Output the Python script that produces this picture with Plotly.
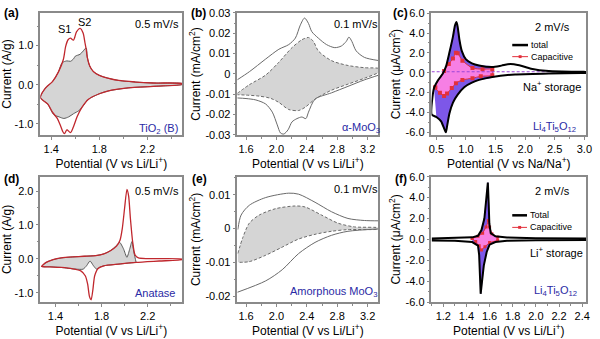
import plotly.graph_objects as go

W, H = 600, 339

# ---------------- Panel (a): TiO2(B), 0.5 mV/s ----------------
a_tot_up_v = [1.31, 1.35, 1.41, 1.46, 1.50, 1.52, 1.54, 1.56, 1.585, 1.61, 1.64, 1.665, 1.68, 1.69, 1.70, 1.72, 1.75, 1.80, 1.87, 1.96, 2.10, 2.25, 2.49]
a_tot_up_i = [-0.33, -0.09, 0.08, 0.33, 0.64, 0.98, 1.15, 1.19, 1.14, 1.35, 1.44, 1.32, 1.08, 0.92, 0.70, 0.48, 0.34, 0.24, 0.17, 0.11, 0.07, 0.045, 0.03]
a_tot_lo_v = [2.49, 2.25, 2.04, 1.87, 1.80, 1.71, 1.655, 1.615, 1.585, 1.56, 1.53, 1.51, 1.495, 1.475, 1.45, 1.41, 1.37, 1.31]
a_tot_lo_i = [0.01, -0.04, -0.08, -0.16, -0.23, -0.37, -0.58, -0.82, -1.07, -1.22, -1.15, -1.25, -1.19, -1.03, -0.86, -0.70, -0.49, -0.33]
a_cap_up_v = [1.31, 1.35, 1.41, 1.46, 1.49, 1.53, 1.56, 1.585, 1.60, 1.64, 1.665, 1.69, 1.70, 1.72, 1.75, 1.80, 1.87, 1.96, 2.10, 2.25, 2.49]
a_cap_up_i = [-0.33, -0.09, 0.08, 0.33, 0.56, 0.61, 0.60, 0.66, 0.73, 0.78, 0.86, 0.94, 0.70, 0.48, 0.34, 0.24, 0.17, 0.11, 0.07, 0.045, 0.03]
a_cap_lo_v = [2.49, 2.25, 2.04, 1.87, 1.80, 1.71, 1.655, 1.63, 1.585, 1.545, 1.505, 1.465, 1.42, 1.37, 1.31]
a_cap_lo_i = [0.01, -0.04, -0.08, -0.16, -0.23, -0.37, -0.58, -0.66, -0.74, -0.82, -0.86, -0.82, -0.76, -0.49, -0.33]

# ---------------- Panel (b): alpha-MoO3, 0.1 mV/s ----------------
b_tot_up_v = [1.483, 1.643, 1.859, 2.032, 2.162, 2.249, 2.314, 2.370, 2.422, 2.465, 2.551, 2.659, 2.768, 2.854, 2.919, 2.954, 2.992, 3.049, 3.157, 3.351]
b_tot_up_i = [-0.0030, 0.0010, 0.0073, 0.0121, 0.0144, 0.0176, 0.0240, 0.0275, 0.0248, 0.0208, 0.0176, 0.0144, 0.0129, 0.0137, 0.0160, 0.0181, 0.0160, 0.0113, 0.0081, 0.0065]
b_tot_lo_v = [3.351, 3.157, 2.941, 2.724, 2.508, 2.422, 2.387, 2.335, 2.270, 2.205, 2.153, 2.097, 2.054, 2.011, 1.946, 1.859, 1.730, 1.600, 1.483]
b_tot_lo_i = [-0.0006, -0.0030, -0.0062, -0.0094, -0.0125, -0.0189, -0.0221, -0.0213, -0.0221, -0.0237, -0.0276, -0.0297, -0.0292, -0.0252, -0.0189, -0.0149, -0.0129, -0.0122, -0.0119]
b_cap_up_v = [1.483, 1.643, 1.859, 2.032, 2.205, 2.335, 2.422, 2.486, 2.551, 2.724, 2.941, 3.157, 3.351]
b_cap_up_i = [-0.0097, -0.0054, -0.0006, 0.0057, 0.0129, 0.0168, 0.0179, 0.0160, 0.0113, 0.0065, 0.0041, 0.0030, 0.0025]
b_cap_lo_v = [3.351, 3.157, 2.941, 2.724, 2.508, 2.378, 2.292, 2.162, 2.032, 1.924, 1.773, 1.600, 1.483]
b_cap_lo_i = [0.0010, -0.0022, -0.0051, -0.0081, -0.0125, -0.0165, -0.0181, -0.0176, -0.0141, -0.0121, -0.0110, -0.0105, -0.0103]

# ---------------- Panel (c): Li4Ti5O12 Na+ storage, 2 mV/s ----------------
c_tot_up_v = [0.42, 0.46, 0.53, 0.61, 0.667, 0.72, 0.78, 0.815, 0.84, 0.86, 0.89, 0.93, 1.00, 1.10, 1.22, 1.445, 1.60, 1.75, 1.90, 2.10, 2.40, 2.95, 3.03]
c_tot_up_i = [-4.2, -1.53, -0.72, -0.08, 0.73, 2.03, 3.64, 4.78, 5.10, 4.60, 3.30, 2.18, 1.35, 0.95, 0.73, 0.57, 0.72, 0.89, 0.75, 0.41, 0.17, 0.09, 0.08]
c_tot_lo_v = [3.03, 2.95, 2.40, 1.83, 1.445, 1.22, 1.10, 0.97, 0.86, 0.78, 0.72, 0.68, 0.66, 0.63, 0.58, 0.50, 0.42]
c_tot_lo_i = [-0.02, -0.02, -0.08, -0.17, -0.42, -0.72, -1.00, -1.45, -2.20, -3.00, -4.10, -5.40, -6.00, -5.60, -4.90, -4.45, -4.20]
c_cap_up_v = [0.48, 0.63, 0.71, 0.78, 0.83, 0.86, 0.94, 1.11, 1.28, 1.445]
c_cap_up_i = [-1.48, 0.18, 0.89, 1.44, 2.02, 1.96, 1.22, 0.47, 0.36, 0.34]
c_cap_lo_v = [1.445, 1.25, 1.11, 0.94, 0.83, 0.76, 0.68, 0.63, 0.56, 0.48]
c_cap_lo_i = [-0.25, -0.35, -0.55, -0.72, -1.05, -1.54, -2.10, -2.35, -2.02, -1.48]
c_base_i = 0.1

# ---------------- Panel (d): Anatase, 0.5 mV/s ----------------
d_tot_up_v = [1.28, 1.32, 1.38, 1.45, 1.55, 1.65, 1.75, 1.82, 1.88, 1.93, 1.96, 1.98, 2.00, 2.02, 2.035, 2.05, 2.07, 2.09, 2.12, 2.20, 2.50]
d_tot_up_i = [-0.22, -0.10, -0.02, 0.03, 0.06, 0.08, 0.10, 0.15, 0.25, 0.38, 0.55, 0.90, 1.50, 2.05, 1.85, 1.20, 0.50, 0.12, 0.03, 0.01, 0.00]
d_tot_lo_v = [2.50, 2.30, 2.10, 1.95, 1.82, 1.77, 1.74, 1.725, 1.71, 1.695, 1.68, 1.66, 1.62, 1.55, 1.45, 1.35, 1.28]
d_tot_lo_i = [-0.02, -0.06, -0.10, -0.15, -0.20, -0.28, -0.50, -0.90, -1.20, -1.10, -0.75, -0.50, -0.35, -0.29, -0.25, -0.23, -0.22]
d_cap_up_v = [1.28, 1.32, 1.38, 1.45, 1.55, 1.65, 1.75, 1.82, 1.88, 1.93, 1.957, 1.99, 2.02, 2.045, 2.063, 2.08, 2.10]
d_cap_up_i = [-0.22, -0.10, -0.02, 0.03, 0.06, 0.08, 0.10, 0.15, 0.25, 0.40, 0.49, 0.30, 0.05, 0.30, 0.51, 0.20, -0.10]
d_cap_lo_v = [2.10, 1.95, 1.82, 1.78, 1.757, 1.73, 1.70, 1.67, 1.64, 1.58, 1.45, 1.35, 1.28]
d_cap_lo_i = [-0.10, -0.15, -0.20, -0.25, -0.30, -0.20, -0.06, -0.20, -0.30, -0.30, -0.25, -0.23, -0.22]

# ---------------- Panel (e): Amorphous MoO3, 0.1 mV/s ----------------
e_tot_up_v = [1.492, 1.535, 1.643, 1.859, 2.162, 2.292, 2.508, 2.724, 2.941, 3.157, 3.351]
e_tot_up_i = [-0.0003, 0.0040, 0.0069, 0.0092, 0.0105, 0.0102, 0.0078, 0.0050, 0.0030, 0.0024, 0.0023]
e_tot_lo_v = [3.351, 2.941, 2.724, 2.508, 2.292, 2.076, 1.859, 1.483]
e_tot_lo_i = [-0.0001, -0.0008, -0.0020, -0.0041, -0.0074, -0.0122, -0.0155, -0.0189]
e_cap_up_v = [1.492, 1.557, 1.643, 1.773, 1.989, 2.249, 2.378, 2.595, 2.811, 3.027, 3.351]
e_cap_up_i = [-0.0074, -0.0027, 0.0016, 0.0040, 0.0059, 0.0067, 0.0064, 0.0040, 0.0016, 0.0005, 0.0002]
e_cap_lo_v = [3.351, 2.941, 2.724, 2.508, 2.292, 2.076, 1.859, 1.643, 1.492]
e_cap_lo_i = [-0.0001, -0.0003, -0.0008, -0.0017, -0.0031, -0.0055, -0.0079, -0.0098, -0.0100]

# ---------------- Panel (f): Li4Ti5O12 Li+ storage, 2 mV/s ----------------
f_tot_up_v = [1.10, 1.30, 1.45, 1.50, 1.53, 1.555, 1.57, 1.585, 1.592, 1.598, 1.61, 1.65, 1.75, 2.00, 2.43]
f_tot_up_i = [0.10, 0.12, 0.20, 0.35, 0.90, 2.00, 3.50, 5.45, 3.50, 1.50, 0.60, 0.30, 0.18, 0.12, 0.10]
f_tot_lo_v = [2.43, 2.00, 1.75, 1.65, 1.60, 1.575, 1.55, 1.535, 1.523, 1.517, 1.51, 1.50, 1.45, 1.30, 1.10]
f_tot_lo_i = [-0.05, -0.08, -0.12, -0.25, -0.50, -1.20, -2.50, -4.00, -5.20, -3.50, -1.50, -0.60, -0.25, -0.12, -0.10]
f_cap_up_v = [1.45, 1.50, 1.54, 1.57, 1.59, 1.60, 1.62, 1.67]
f_cap_up_i = [0.10, 0.30, 0.60, 1.20, 1.80, 1.20, 0.55, 0.20]
f_cap_lo_v = [1.67, 1.60, 1.56, 1.53, 1.51, 1.48, 1.45]
f_cap_lo_i = [-0.10, -0.30, -0.70, -1.00, -0.60, -0.20, 0.10]

# ---------------- styling ----------------
FONT = "Arial, Liberation Sans, sans-serif"
RED = "#c0272d"
GRAYLINE = "#5a5a5a"
GRAYFILL = "#d5d5d5"
PURPLE = "#7d57e8"
PINK = "#f77fe4"
CAPRED = "#e3303c"
BLUE = "#2a2aa5"
AXC = "#8a8a8a"

cols = [(38, 182), (238, 381), (435, 592)]
rows = [(7, 134), (177, 307)]


def xdom(c):
    return [cols[c][0] / W, cols[c][1] / W]


def ydom(r):
    return [1 - rows[r][1] / H, 1 - rows[r][0] / H]


def loop(uv, ui, lv, li):
    return list(uv) + list(lv), list(ui) + list(li)


fig = go.Figure()


def add(x, y, ax, **kw):
    fig.add_trace(go.Scatter(x=x, y=y, xaxis="x" + ax, yaxis="y" + ax,
                             showlegend=False, hoverinfo="skip", **kw))


# (a)
x, y = loop(a_cap_up_v, a_cap_up_i, a_cap_lo_v, a_cap_lo_i)
add(x, y, "", mode="lines", fill="toself", fillcolor=GRAYFILL,
    line=dict(color=GRAYLINE, width=1, shape="spline", smoothing=0.8))
x, y = loop(a_tot_up_v, a_tot_up_i, a_tot_lo_v, a_tot_lo_i)
add(x, y, "", mode="lines", line=dict(color=RED, width=1.3, shape="spline", smoothing=0.8))

# (b)
x, y = loop(b_cap_up_v, b_cap_up_i, b_cap_lo_v, b_cap_lo_i)
add(x, y, "2", mode="lines", fill="toself", fillcolor=GRAYFILL,
    line=dict(color="#6a6a6a", width=1, dash="3px,2px", shape="spline", smoothing=0.8))
add(b_tot_up_v, b_tot_up_i, "2", mode="lines", line=dict(color="#6a6a6a", width=1, shape="spline", smoothing=0.8))
add(b_tot_lo_v, b_tot_lo_i, "2", mode="lines", line=dict(color="#6a6a6a", width=1, shape="spline", smoothing=0.8))

# (c)
pu = [(v, i) for v, i in zip(c_tot_up_v, c_tot_up_i) if c_cap_up_v[0] - 0.03 <= v <= c_cap_up_v[-1]]
pl = [(v, i) for v, i in zip(c_tot_lo_v, c_tot_lo_i) if c_cap_up_v[0] <= v <= c_cap_up_v[-1]]
add([p[0] for p in pu] + [p[0] for p in pl], [p[1] for p in pu] + [p[1] for p in pl], "3",
    mode="lines", fill="toself", fillcolor=PURPLE,
    line=dict(color=PURPLE, width=0.5, shape="spline", smoothing=0.6))
x, y = loop(c_cap_up_v, c_cap_up_i, c_cap_lo_v, c_cap_lo_i)
add(x, y, "3", mode="lines+markers", fill="toself", fillcolor=PINK,
    line=dict(color=CAPRED, width=1, shape="spline", smoothing=0.6),
    marker=dict(symbol="square", size=4, color=CAPRED))
add([c_tot_up_v[0], c_tot_up_v[-1]], [c_base_i, c_base_i], "3", mode="lines",
    line=dict(color="#9b45d6", width=1.2, dash="3px,2px"))
x, y = loop(c_tot_up_v, c_tot_up_i, c_tot_lo_v, c_tot_lo_i)
add(x, y, "3", mode="lines", line=dict(color="black", width=2, shape="spline", smoothing=0.6))

# (d)
x, y = loop(d_cap_up_v, d_cap_up_i, d_cap_lo_v, d_cap_lo_i)
add(x, y, "4", mode="lines", fill="toself", fillcolor=GRAYFILL,
    line=dict(color=GRAYLINE, width=1, shape="spline", smoothing=0.6))
x, y = loop(d_tot_up_v, d_tot_up_i, d_tot_lo_v, d_tot_lo_i)
add(x, y, "4", mode="lines", line=dict(color=RED, width=1.3, shape="spline", smoothing=0.6))

# (e)
x, y = loop(e_cap_up_v, e_cap_up_i, e_cap_lo_v, e_cap_lo_i)
add(x, y, "5", mode="lines", fill="toself", fillcolor=GRAYFILL,
    line=dict(color="#6a6a6a", width=1, dash="3px,2px", shape="spline", smoothing=0.8))
add(e_tot_up_v, e_tot_up_i, "5", mode="lines", line=dict(color="#6a6a6a", width=1, shape="spline", smoothing=0.8))
add(e_tot_lo_v, e_tot_lo_i, "5", mode="lines", line=dict(color="#6a6a6a", width=1, shape="spline", smoothing=0.8))

# (f)
pu = [(v, i) for v, i in zip(f_tot_up_v, f_tot_up_i) if f_cap_up_v[0] <= v <= f_cap_up_v[-1]]
pl = [(v, i) for v, i in zip(f_tot_lo_v, f_tot_lo_i) if f_cap_up_v[0] <= v <= f_cap_up_v[-1]]
add([p[0] for p in pu] + [p[0] for p in pl], [p[1] for p in pu] + [p[1] for p in pl], "6",
    mode="lines", fill="toself", fillcolor=PURPLE, line=dict(color=PURPLE, width=0.5))
x, y = loop(f_cap_up_v, f_cap_up_i, f_cap_lo_v, f_cap_lo_i)
add(x, y, "6", mode="lines+markers", fill="toself", fillcolor=PINK,
    line=dict(color=CAPRED, width=1), marker=dict(symbol="square", size=3, color=CAPRED))
x, y = loop(f_tot_up_v, f_tot_up_i, f_tot_lo_v, f_tot_lo_i)
add(x, y, "6", mode="lines", line=dict(color="black", width=2))

# ---------------- axes ----------------
a_ytv = [-1, 0, 1]
a_ytt = ["-1.0", "0.0", "1.0"]
b_ytv = [-0.03, -0.02, -0.01, 0, 0.01, 0.02, 0.03]
b_ytt = ["-0.03", "-0.02", "-0.01", "0", "0.01", "0.02", "0.03"]
c_ytv = [-6, -4, -2, 0, 2, 4, 6]
c_ytt = ["-6.0", "-4.0", "-2.0", "0.0", "2.0", "4.0", "6.0"]
d_ytv = [-1, 0, 1, 2]
d_ytt = ["-1.0", "0.0", "1.0", "2.0"]
e_ytv = [-0.02, -0.01, 0, 0.01]
e_ytt = ["-0.02", "-0.01", "0", "0.01"]

LI = "Potential (V vs Li/Li<sup>+</sup>)"
NA = "Potential (V vs Na/Na<sup>+</sup>)"


def xax(c, r, rng, tick0, dtick, mdt, title, anchor):
    return dict(domain=xdom(c), range=rng, anchor=anchor, showline=True, linecolor=AXC,
                linewidth=1.5, mirror=True, ticks="outside", ticklen=3, tickcolor=AXC,
                tickmode="linear", tick0=tick0, dtick=dtick, tickformat=".1f",
                tickfont=dict(size=11, color="black", family=FONT), showgrid=False, zeroline=False,
                minor=dict(ticks="outside", ticklen=2, tickcolor=AXC, dtick=mdt, tick0=tick0),
                title=dict(text=title, font=dict(size=12, color="black", family=FONT), standoff=2))


def yax(c, r, rng, tv, tt, mdt, title, anchor):
    return dict(domain=ydom(r), range=rng, anchor=anchor, showline=True, linecolor=AXC,
                linewidth=1.5, mirror=True, ticks="outside", ticklen=3, tickcolor=AXC,
                tickmode="array", tickvals=tv, ticktext=tt,
                tickfont=dict(size=11, color="black", family=FONT), showgrid=False, zeroline=False,
                minor=dict(ticks="outside", ticklen=2, tickcolor=AXC, dtick=mdt, tick0=0),
                title=dict(text=title, font=dict(size=12, color="black", family=FONT), standoff=2))


layout = dict(
    width=W, height=H, margin=dict(l=0, r=0, t=0, b=0),
    paper_bgcolor="white", plot_bgcolor="white", font=dict(family=FONT, color="black"),
    xaxis=xax(0, 0, [1.31, 2.49], 1.4, 0.4, 0.2, LI, "y"),
    yaxis=yax(0, 0, [-1.29, 1.84], a_ytv, a_ytt, 0.5, "Current (A/g)", "x"),
    xaxis2=xax(1, 0, [1.487, 3.34], 1.6, 0.4, 0.2, LI, "y2"),
    yaxis2=yax(1, 0, [-0.0303, 0.0301], b_ytv, b_ytt, 0.005, "Current (mA/cm<sup>2</sup>)", "x2"),
    xaxis3=xax(2, 0, [0.417, 3.03], 0.5, 0.5, 0.25, NA, "y3"),
    yaxis3=yax(2, 0, [-6.29, 6.04], c_ytv, c_ytt, 1, "Current (μA/cm<sup>2</sup>)", "x3"),
    xaxis4=xax(0, 1, [1.27, 2.5], 1.4, 0.4, 0.2, LI, "y4"),
    yaxis4=yax(0, 1, [-1.27, 2.42], d_ytv, d_ytt, 0.5, "Current (A/g)", "x4"),
    xaxis5=xax(1, 1, [1.487, 3.34], 1.6, 0.4, 0.2, LI, "y5"),
    yaxis5=yax(1, 1, [-0.0218, 0.01537], e_ytv, e_ytt, 0.005, "Current (mA/cm<sup>2</sup>)", "x5"),
    xaxis6=xax(2, 1, [1.098, 2.434], 1.2, 0.2, 0.1, LI, "y6"),
    yaxis6=yax(2, 1, [-6.0, 6.0], c_ytv, c_ytt, 1, "Current (μA/cm<sup>2</sup>)", "x6"),
)
fig.update_layout(**layout)


def ann(px, py, text, size=11, color="black", xanchor="center", bold=False):
    if bold:
        text = "<b>" + text + "</b>"
    fig.add_annotation(x=px / W, y=1 - py / H, xref="paper", yref="paper", text=text,
                       showarrow=False, xanchor=xanchor, yanchor="middle",
                       font=dict(size=size, color=color, family=FONT))


for px, py, t in [(9, 7, "(a)"), (198, 7, "(b)"), (404, 7, "(c)"),
                  (9, 179, "(d)"), (199, 179, "(e)"), (404, 179, "(f)")]:
    ann(px, py, t, size=12, bold=True)

ann(156, 19, "0.5 mV/s")
ann(62, 24, "S1")
ann(83, 17, "S2")
ann(158, 127, "TiO<sub>2</sub> (B)", color=BLUE)
ann(358, 19, "0.1 mV/s")
ann(363, 126, "α-MoO<sub>3</sub>", color=BLUE)
ann(558, 22, "2 mV/s")
ann(534, 40.5, "total", size=9, xanchor="left")
ann(534, 52.5, "Capacitive", size=9, xanchor="left")
ann(557, 83, "Na<sup>+</sup> storage")
ann(560, 125, "Li<sub>4</sub>Ti<sub>5</sub>O<sub>12</sub>", color=BLUE)
ann(156, 192, "0.5 mV/s")
ann(154, 298, "Anatase", color=BLUE)
ann(358, 190, "0.1 mV/s")
ann(336, 297, "Amorphous MoO<sub>3</sub>", color=BLUE)
ann(558, 192, "2 mV/s")
ann(533, 217, "Total", size=9, xanchor="left")
ann(533, 229.5, "Capacitive", size=9, xanchor="left")
ann(562, 255, "Li<sup>+</sup> storage")
ann(561, 295, "Li<sub>4</sub>Ti<sub>5</sub>O<sub>12</sub>", color=BLUE)

# legend keys (c) and (f)
for (x0, x1, py, col, w) in [(517, 533, 40.5, "black", 2.5), (517, 533, 52.5, CAPRED, 1),
                             (517, 532, 217, "black", 2.5), (517, 532, 229.5, CAPRED, 1)]:
    fig.add_shape(type="line", xref="paper", yref="paper", x0=x0 / W, x1=x1 / W,
                  y0=1 - py / H, y1=1 - py / H, line=dict(color=col, width=w))
for (cx, py) in [(525, 52.5), (524.5, 229.5)]:
    fig.add_shape(type="rect", xref="paper", yref="paper", x0=(cx - 1.5) / W, x1=(cx + 1.5) / W,
                  y0=1 - (py + 1.5) / H, y1=1 - (py - 1.5) / H, line=dict(width=0), fillcolor=CAPRED)

fig.write_html("out.html")
